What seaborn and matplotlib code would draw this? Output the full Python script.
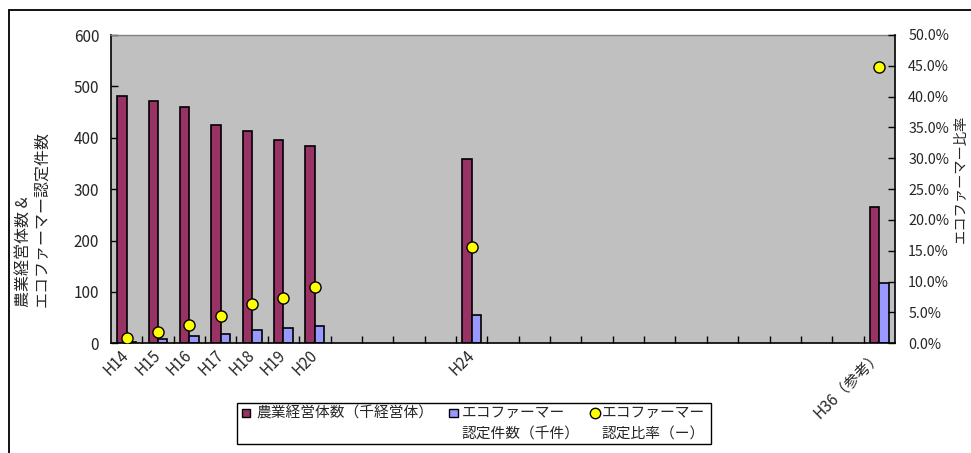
import matplotlib
matplotlib.use("Agg")
import matplotlib.pyplot as plt
import seaborn as sns
import pandas as pd
import numpy as np
from matplotlib.lines import Line2D
from matplotlib.patches import Rectangle
from matplotlib.ticker import FuncFormatter

# Category axis (blank slots are intentional gaps on the axis)
categories = (["H14", "H15", "H16", "H17", "H18", "H19", "H20", "", "", "", "", "H24"]
              + [""] * 12 + ["H36（参考）"])

years = ["H14", "H15", "H16", "H17", "H18", "H19", "H20", "H24", "H36（参考）"]
farms = [482, 471, 460, 425, 413, 396, 384, 359, 266]          # 千経営体
eco_certified = [3, 8.5, 13.5, 18.5, 26, 29, 34.5, 56, 118]    # 千件
eco_ratio = [0.008, 0.019, 0.030, 0.045, 0.063, 0.074, 0.091, 0.156, 0.448]

series_names = ["農業経営体数（千経営体）", "エコファーマー認定件数（千件）"]
bar_colors = ["#993366", "#9999FF"]
dot_color = "#FFFF00"

sns.set_theme(style="white")
plt.rcParams["font.family"] = ["Noto Sans CJK JP", "DejaVu Sans"]

slots = [categories.index(y) for y in years]
df = pd.DataFrame({
    "slot": slots * 2,
    "series": [series_names[0]] * len(years) + [series_names[1]] * len(years),
    "value": farms + eco_certified,
})

W, H = 971, 453
fig = plt.figure(figsize=(W / 100, H / 100), dpi=100)
fig.patch.set_facecolor("white")


def fx(x):
    return x / W


def fy(y):
    return 1 - y / H


ax = fig.add_axes([fx(111), fy(343.3), 784 / W, 308.3 / H])
ax.set_facecolor("#C0C0C0")

sns.barplot(data=df, x="slot", y="value", hue="series", hue_order=series_names,
            palette=bar_colors, native_scale=True, width=0.6, dodge=True,
            errorbar=None, saturation=1, edgecolor="black", linewidth=1.2,
            legend=False, ax=ax)

ax.set_xlim(-0.5, len(categories) - 0.5)
ax.set_ylim(0, 600)
ax.set_yticks(np.arange(0, 601, 100))
ax.set_xticks(range(len(categories)))
ax.set_xticklabels(categories, rotation=45, ha="right", va="center",
                   rotation_mode="anchor", fontsize=11)
ax.set_xticks(np.arange(0.5, len(categories) - 1, 1), minor=True)
ax.tick_params(axis="x", which="major", length=0, pad=7)
ax.tick_params(axis="x", which="minor", direction="in", length=5, width=1,
               color="black", bottom=True)
ax.tick_params(axis="y", direction="in", length=5, width=1, color="black",
               left=True, pad=8.5, labelsize=11)
ax.set_xlabel("")
ax.set_ylabel("")
for side in ("left", "bottom"):
    ax.spines[side].set_color("black")
    ax.spines[side].set_linewidth(1.2)
ax.spines["top"].set_color("#808080")
ax.spines["top"].set_linewidth(1)
ax.spines["right"].set_visible(False)

ax2 = ax.twinx()
sns.scatterplot(x=slots, y=eco_ratio, ax=ax2, s=64, color=dot_color,
                edgecolor="black", linewidth=1, zorder=5, legend=False)
ax2.set_ylim(0, 0.5)
ax2.set_yticks(np.arange(0, 0.501, 0.05))
ax2.yaxis.set_major_formatter(FuncFormatter(lambda v, p: f"{v * 100:.1f}%"))
ax2.tick_params(axis="y", direction="in", length=5, width=1, color="black",
                right=True, pad=9.5, labelsize=10.3)
for side in ("left", "top", "bottom"):
    ax2.spines[side].set_visible(False)
ax2.spines["right"].set_color("black")
ax2.spines["right"].set_linewidth(1.2)
ax2.set_ylabel("")

# Axis titles
fig.text(fx(33), fy(307), "農業経営体数 &\nエコファーマー認定件数", rotation=90,
         ha="center", va="bottom", multialignment="left", fontsize=11.5,
         linespacing=1.1)
fig.text(fx(961), fy(178.5), "エコファーマー比率", rotation=90,
         ha="center", va="center", fontsize=10.3)

# Chart frame
fig.add_artist(Line2D([fx(9), fx(9)], [0, fy(10)], transform=fig.transFigure,
                      color="black", lw=1.3))
fig.add_artist(Line2D([fx(9), 1], [fy(10), fy(10)], transform=fig.transFigure,
                      color="black", lw=1.3))

# Legend
fig.add_artist(Rectangle((fx(237.3), fy(444.3)), (711 - 237.3) / W, 41 / H,
                         transform=fig.transFigure, facecolor="white",
                         edgecolor="black", lw=1))
sq = 8.3
for cx, col in ((246, bar_colors[0]), (453.5, bar_colors[1])):
    fig.add_artist(Rectangle((fx(cx - sq / 2), fy(413 + sq / 2)), sq / W, sq / H,
                             transform=fig.transFigure, facecolor=col,
                             edgecolor="black", lw=1))
fig.add_artist(Line2D([fx(594.5)], [fy(413)], transform=fig.transFigure,
                      marker="o", markersize=7.5, markerfacecolor=dot_color,
                      markeredgecolor="black", markeredgewidth=1, linestyle="none"))
legend_lines = [
    (256.7, ["農業経営体数（千経営体）"]),
    (461.7, ["エコファーマー", "認定件数（千件）"]),
    (601.7, ["エコファーマー", "認定比率（ー）"]),
]
for x0, lines in legend_lines:
    for i, line in enumerate(lines):
        fig.text(fx(x0), fy(413 + 21.3 * i), line, ha="left", va="center",
                 fontsize=10.6)

fig.savefig("out.png", dpi=100)
